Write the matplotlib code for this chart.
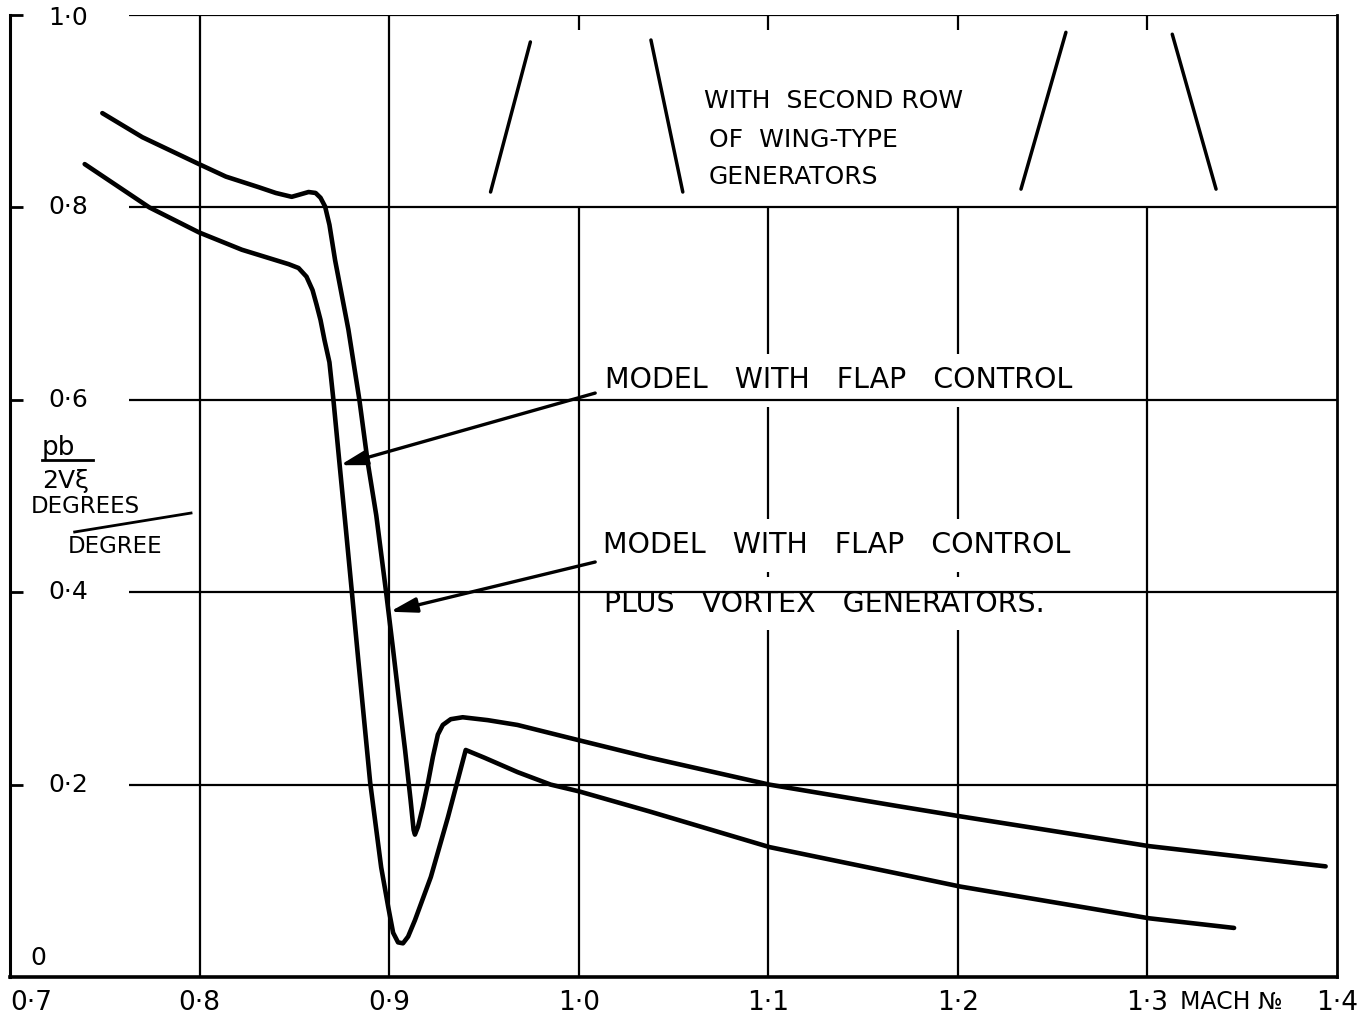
import matplotlib
matplotlib.use('Agg')
import matplotlib.pyplot as plt

plt.rcParams['font.family'] = ['DejaVu Sans']

# ---- data -------------------------------------------------------------
# Model with flap control plus vortex generators (upper curve)
mach_vg = [0.7487, 0.7698, 0.7997, 0.8139, 0.8312, 0.8402, 0.8486, 0.8522, 0.8575,
           0.8612, 0.8638, 0.8662, 0.8685, 0.8715, 0.8785, 0.8843, 0.8887, 0.8932,
           0.8984, 0.9021, 0.9052, 0.9084, 0.9113, 0.9129, 0.9136, 0.9152, 0.9178,
           0.9205, 0.9231, 0.9257, 0.9283, 0.9325, 0.9388, 0.9520, 0.9677, 1.0003,
           1.0375, 1.1005, 1.1672, 1.2013, 1.3010, 1.3940]
coef_vg = [0.898, 0.873, 0.845, 0.832, 0.821, 0.815, 0.811, 0.813, 0.816,
           0.815, 0.810, 0.801, 0.782, 0.745, 0.673, 0.600, 0.535, 0.480,
           0.400, 0.340, 0.288, 0.236, 0.184, 0.153, 0.148, 0.156, 0.177,
           0.202, 0.229, 0.252, 0.262, 0.268, 0.270, 0.267, 0.262, 0.246,
           0.228, 0.200, 0.178, 0.167, 0.136, 0.115]

# Model with flap control (lower curve)
mach_flap = [0.7394, 0.7735, 0.7997, 0.8223, 0.8470, 0.8522, 0.8564, 0.8596, 0.8617,
             0.8638, 0.8659, 0.8685, 0.8706, 0.8739, 0.8772, 0.8803, 0.8837, 0.8900,
             0.8958, 0.8995, 0.9021, 0.9047, 0.9073, 0.9100, 0.9136, 0.9220, 0.9310,
             0.9404, 0.9502, 0.9677, 0.9852, 1.0001, 1.0375, 1.1007, 1.1672, 1.2013,
             1.3010, 1.3457]
coef_flap = [0.845, 0.800, 0.774, 0.756, 0.741, 0.737, 0.728, 0.714, 0.699,
             0.683, 0.662, 0.639, 0.600, 0.532, 0.465, 0.401, 0.330, 0.202,
             0.114, 0.073, 0.046, 0.036, 0.035, 0.042, 0.059, 0.104, 0.166,
             0.236, 0.228, 0.213, 0.200, 0.193, 0.172, 0.135, 0.108, 0.094,
             0.061, 0.051]

x_ticks = [0.7, 0.8, 0.9, 1.0, 1.1, 1.2, 1.3, 1.4]
x_tick_labels = ['0·7', '0·8', '0·9', '1·0', '1·1', '1·2', '1·3', '1·4']
y_ticks = [0.2, 0.4, 0.6, 0.8, 1.0]
y_tick_labels = ['0·2', '0·4', '0·6', '0·8', '1·0']

# sketched wing-type generators (two pairs of slanted strokes)
gen_x = [[0.9535, 0.9745], [1.0549, 1.0381], [1.2333, 1.2570], [1.3362, 1.3131]]
gen_y = [[0.816, 0.972], [0.816, 0.974], [0.819, 0.982], [0.819, 0.980]]

# ---- figure -----------------------------------------------------------
fig = plt.figure(figsize=(13.64, 10.25), dpi=100)
ax = fig.add_axes([10 / 1364, 48 / 1025, 1327 / 1364, 962 / 1025])
ax.set_xlim(0.7, 1.4)
ax.set_ylim(0.0, 1.0)

ax.spines['top'].set_visible(False)
ax.spines['left'].set_linewidth(2.2)
ax.spines['bottom'].set_linewidth(2.6)
ax.spines['right'].set_linewidth(2.0)

ax.set_xticks(x_ticks)
ax.set_xticklabels(x_tick_labels, fontsize=19)
ax.tick_params(axis='x', length=0, pad=9)
ax.get_xticklabels()[0].set_horizontalalignment('left')

ax.set_yticks(y_ticks)
ax.set_yticklabels([])
ax.tick_params(axis='y', direction='in', length=9, width=2)

gl = dict(color='black', lw=1.6)
# vertical grid
ax.vlines([0.8, 0.9], 0, 1.0, zorder=1, **gl)
ax.vlines([1.0, 1.1, 1.2, 1.3], 0, 0.8, zorder=1, **gl)
ax.vlines([1.0, 1.1, 1.2, 1.3], 0.984, 1.0, zorder=1, **gl)
# horizontal grid (starts right of the y labels)
ax.hlines(y_ticks, 0.763, 1.4, zorder=3, **gl)

# y tick labels inside the frame
for yv, lab in zip(y_ticks, y_tick_labels):
    ax.text(0.7305, yv if yv < 1.0 else 0.997, lab, fontsize=18,
            ha='center', va='center')
ax.text(0.7147, 0.020, '0', fontsize=18, ha='center', va='center')
ax.text(1.3441, -0.0255, 'MACH №', fontsize=17, ha='center', va='center')

# y axis label block
ax.text(0.7168, 0.5499, 'pb', fontsize=19, ha='left', va='center')
ax.plot([0.7168, 0.7440], [0.5374, 0.5374], color='black', lw=2)
ax.text(0.7168, 0.5156, '2Vξ', fontsize=18, ha='left', va='center')
ax.text(0.7112, 0.4886, 'DEGREES', fontsize=16.5, ha='left', va='center')
ax.plot([0.7341, 0.7955], [0.4626, 0.4823], color='black', lw=2)
ax.text(0.7304, 0.4480, 'DEGREE', fontsize=16.5, ha='left', va='center')

# curves
ax.plot(mach_vg, coef_vg, color='black', lw=3.3, zorder=4,
        solid_joinstyle='round', solid_capstyle='round')
ax.plot(mach_flap, coef_flap, color='black', lw=3.3, zorder=4,
        solid_joinstyle='round', solid_capstyle='round')

# generator sketches
for gx, gy in zip(gen_x, gen_y):
    ax.plot(gx, gy, color='black', lw=2.5, solid_capstyle='round')

# annotations
box = dict(facecolor='white', edgecolor='none', pad=9)
ax.text(1.0659, 0.9105, 'WITH  SECOND ROW', fontsize=18, ha='left', va='center')
ax.text(1.0685, 0.8700, 'OF  WING-TYPE', fontsize=18, ha='left', va='center')
ax.text(1.0685, 0.8320, 'GENERATORS', fontsize=18, ha='left', va='center')

ax.text(1.0140, 0.6205, 'MODEL   WITH   FLAP   CONTROL', fontsize=20.5,
        ha='left', va='center', bbox=box, zorder=2)
ax.text(1.0130, 0.4490, 'MODEL   WITH   FLAP   CONTROL', fontsize=20.5,
        ha='left', va='center', bbox=box, zorder=2)
ax.text(1.0135, 0.3880, 'PLUS   VORTEX   GENERATORS.', fontsize=20.5,
        ha='left', va='center', bbox=box, zorder=2)

arrow = dict(arrowstyle='-|>,head_length=1.0,head_width=0.28', lw=2.4,
             color='black', shrinkA=0, shrinkB=0, mutation_scale=16)
ax.annotate('', xy=(0.8741, 0.532), xytext=(1.0087, 0.607),
            arrowprops=arrow, zorder=5)
ax.annotate('', xy=(0.9004, 0.3797), xytext=(1.0087, 0.4314),
            arrowprops=arrow, zorder=5)

fig.savefig('out.png', dpi=100, facecolor='white')
